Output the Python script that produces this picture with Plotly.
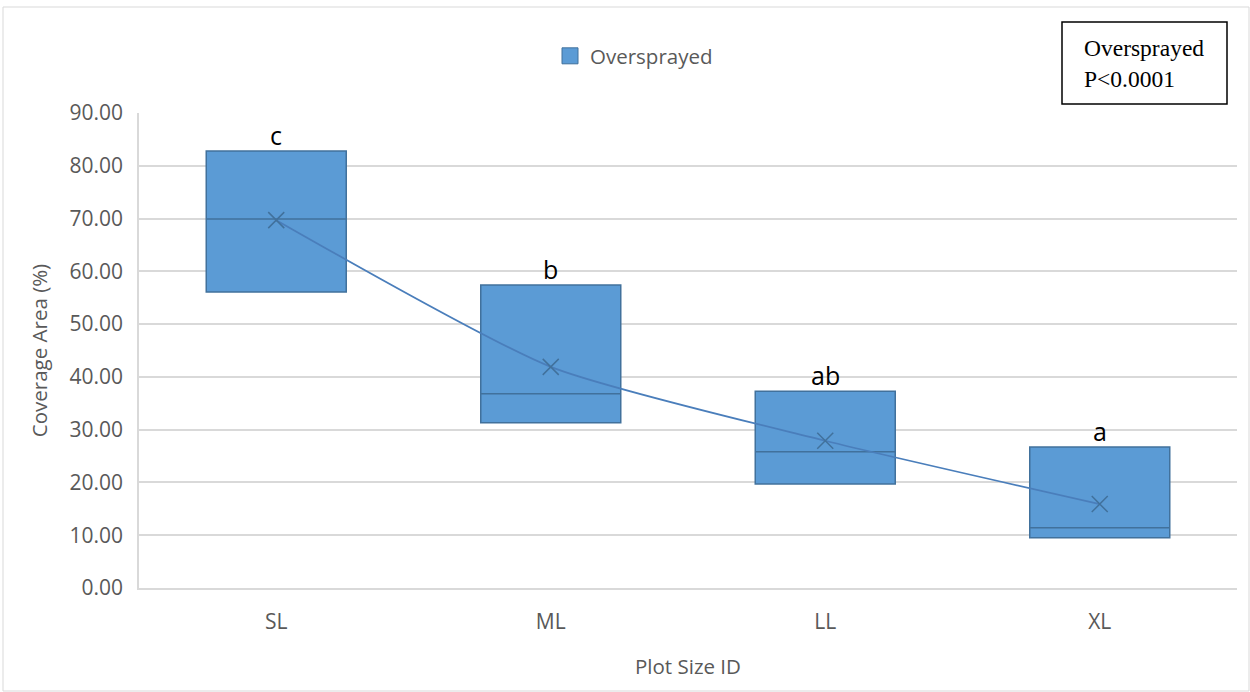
import plotly.graph_objects as go

# Box statistics for coverage area (%) by plot size
categories = ["SL", "ML", "LL", "XL"]
q1_vals = [56.1, 31.3, 19.7, 9.5]
median_vals = [69.9, 36.8, 25.8, 11.4]
q3_vals = [82.8, 57.4, 37.3, 26.7]
mean_vals = [69.7, 41.9, 27.9, 15.9]
group_letters = ["c", "b", "ab", "a"]
y_ticks = [0, 10, 20, 30, 40, 50, 60, 70, 80, 90]

FILL = "#5B9BD5"
EDGE = "#41719C"
MEAN_LINE = "#4A7EBB"
GRID = "#D9D9D9"
TXT = "#595959"
FONT = "Open Sans"

# Paper-coordinate helpers for the plot area (139..1237 px wide, 113..588 px tall)
def px_x(px):
    return (px - 139) / 1098

def px_y(py):
    return (588 - py) / 475

fig = go.Figure()

fig.add_trace(go.Box(
    x=categories,
    q1=q1_vals,
    median=median_vals,
    q3=q3_vals,
    lowerfence=q1_vals,
    upperfence=q3_vals,
    fillcolor=FILL,
    line=dict(color=EDGE, width=1.5),
    whiskerwidth=0,
    width=0.51,
    boxpoints=False,
    showlegend=False,
    hoverinfo="skip",
))

# Means joined by a smoothed line with x markers
fig.add_trace(go.Scatter(
    x=categories,
    y=mean_vals,
    mode="lines+markers",
    line=dict(color=MEAN_LINE, width=1.75, shape="spline", smoothing=0.6),
    marker=dict(symbol="x-thin", size=16, line=dict(color=EDGE, width=1.5)),
    showlegend=False,
))

# Legend entry
fig.add_trace(go.Scatter(
    x=[None], y=[None],
    mode="markers",
    name="Oversprayed",
    marker=dict(symbol="square", size=20, color=FILL, line=dict(color=EDGE, width=1)),
    showlegend=True,
))

for cat, top, letter in zip(categories, q3_vals, group_letters):
    fig.add_annotation(
        x=cat, y=top, text=letter, showarrow=False,
        yanchor="bottom", yshift=-3,
        font=dict(family=FONT, size=25, color="#000000"),
    )

# Significance box
fig.add_shape(
    type="rect", xref="paper", yref="paper",
    x0=px_x(1062), x1=px_x(1227), y0=px_y(104), y1=px_y(22),
    line=dict(color="#000000", width=1.5), fillcolor="#FFFFFF",
)
fig.add_annotation(
    xref="paper", yref="paper",
    x=px_x(1082), y=px_y(64),
    xanchor="left", yanchor="middle",
    text="Oversprayed<br>P<0.0001",
    align="left", showarrow=False,
    font=dict(family="Liberation Serif", size=23.5, color="#000000"),
)

# Outer chart border
fig.add_shape(
    type="rect", xref="paper", yref="paper",
    x0=px_x(3), x1=px_x(1249), y0=px_y(691), y1=px_y(7),
    line=dict(color="#D9D9D9", width=1), layer="below",
)

fig.update_layout(
    width=1250, height=692,
    margin=dict(l=139, r=13, t=113, b=104),
    plot_bgcolor="#FFFFFF",
    paper_bgcolor="#FFFFFF",
    font=dict(family=FONT, color=TXT),
    legend=dict(
        orientation="h", x=px_x(634), xanchor="center",
        y=px_y(56), yanchor="middle",
        font=dict(family=FONT, size=20.5, color=TXT),
        itemsizing="trace",
    ),
    xaxis=dict(
        type="category",
        range=[-0.5, 3.5],
        showgrid=False,
        showline=True, linecolor=GRID, linewidth=1.5,
        ticks="", ticklabelstandoff=14,
        tickfont=dict(family=FONT, size=21, color=TXT),
        title=dict(text="Plot Size ID", standoff=26,
                   font=dict(family=FONT, size=20.5, color=TXT)),
    ),
    yaxis=dict(
        range=[0, 90],
        tickvals=y_ticks,
        ticktext=[f"{v:.2f}" for v in y_ticks],
        showgrid=True, gridcolor=GRID, gridwidth=1.5,
        zeroline=False,
        showline=True, linecolor=GRID, linewidth=1.5,
        ticks="", ticklabelstandoff=10,
        tickfont=dict(family=FONT, size=21, color=TXT),
        title=dict(text="Coverage Area (%)", standoff=16,
                   font=dict(family=FONT, size=20.5, color=TXT)),
    ),
)

fig.write_html("out.html")
